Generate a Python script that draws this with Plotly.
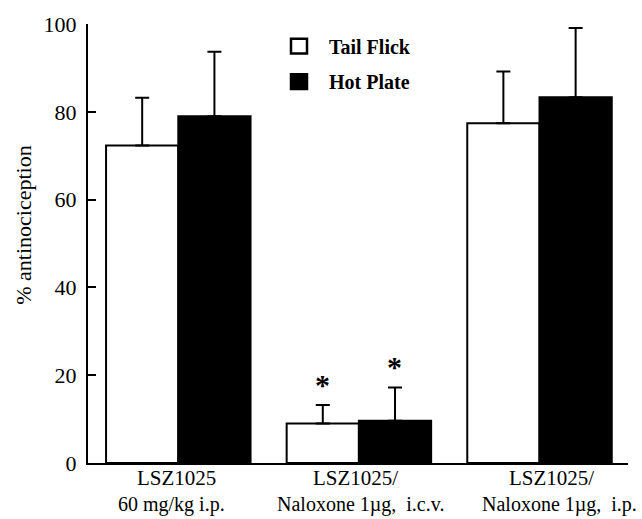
import plotly.graph_objects as go

categories = ["LSZ1025", "LSZ1025/", "LSZ1025/ "]
sublabels = ["60 mg/kg i.p.", "Naloxone 1\u00b5g,  i.c.v.", "Naloxone 1\u00b5g,  i.p."]
tail_flick = [72.3, 9.0, 77.4]
tail_flick_err = [10.9, 4.2, 11.8]
hot_plate = [79.0, 9.6, 83.3]
hot_plate_err = [14.7, 7.6, 15.8]
y_ticks = [0, 20, 40, 60, 80, 100]
series_names = ["Tail Flick", "Hot Plate"]

FONT = "Liberation Serif"
W, H = 642, 519
L, R, T, B = 88, 14, 17, 56
pw, ph = W - L - R, H - T - B

def px(x):
    return (x - L) / pw

def py(y):
    return (H - B - y) / ph

fig = go.Figure()
fig.add_trace(go.Bar(
    x=categories, y=tail_flick, name=series_names[0],
    marker=dict(color="white", line=dict(color="black", width=2)),
    error_y=dict(type="data", array=tail_flick_err, arrayminus=[0] * 3,
                 symmetric=False, color="black", thickness=2, width=7),
    showlegend=False,
))
fig.add_trace(go.Bar(
    x=categories, y=hot_plate, name=series_names[1],
    marker=dict(color="black", line=dict(color="black", width=2)),
    error_y=dict(type="data", array=hot_plate_err, arrayminus=[0] * 3,
                 symmetric=False, color="black", thickness=2, width=7),
    showlegend=False,
))

annotations = []
# category labels (two lines)
for cat, sub, s1, s2 in zip(categories, sublabels, [-2, -3, 12], [-7, 2, 20]):
    annotations.append(dict(x=cat, xref="x", y=py(464), yref="paper", text=cat.strip(),
                            showarrow=False, yanchor="top", xanchor="center", xshift=s1,
                            font=dict(family=FONT, size=21, color="black")))
    annotations.append(dict(x=cat, xref="x", y=py(519), yref="paper", text=sub,
                            showarrow=False, yanchor="bottom", xanchor="center", xshift=s2,
                            font=dict(family=FONT, size=20, color="black")))

# significance asterisks
annotations.append(dict(x=categories[1], xref="x", y=tail_flick[1] + tail_flick_err[1] + 4.6, yref="y",
                        text="<b>*</b>", showarrow=False, xshift=-36, yanchor="middle",
                        font=dict(family=FONT, size=30, color="black")))
annotations.append(dict(x=categories[1], xref="x", y=hot_plate[1] + hot_plate_err[1] + 4.8, yref="y",
                        text="<b>*</b>", showarrow=False, xshift=36, yanchor="middle",
                        font=dict(family=FONT, size=30, color="black")))

# y axis title
annotations.append(dict(x=px(24), xref="paper", y=py(222), yref="paper", text="% antinociception",
                        textangle=-90, showarrow=False, xanchor="center", yanchor="middle",
                        font=dict(family=FONT, size=22, color="black")))

# legend
shapes = []
for i, (name, fill) in enumerate(zip(series_names, ["white", "black"])):
    y0 = 32 + i * 36
    shapes.append(dict(type="rect", xref="paper", yref="paper",
                       x0=px(291), x1=px(307), y0=py(y0 + 15), y1=py(y0),
                       fillcolor=fill, line=dict(color="black", width=2.5)))
    annotations.append(dict(x=px(327), xref="paper", y=py(y0 + 8), yref="paper", text="<b>" + name + "</b>",
                            showarrow=False, xanchor="left", yanchor="middle",
                            font=dict(family=FONT, size=20, color="black")))

fig.update_layout(
    width=W, height=H,
    margin=dict(l=L, r=R, t=T, b=B),
    paper_bgcolor="white", plot_bgcolor="white",
    barmode="group", bargap=0.2, bargroupgap=0,
    annotations=annotations, shapes=shapes,
    xaxis=dict(type="category", range=[-0.5, 2.49], showline=True, linecolor="black", linewidth=2,
               showticklabels=False, ticks="", showgrid=False, zeroline=False),
    yaxis=dict(range=[0, 100], tickvals=y_ticks, showline=True, linecolor="black", linewidth=2,
               ticks="inside", ticklen=8, tickwidth=2, tickcolor="black", showgrid=False, zeroline=False,
               tickfont=dict(family=FONT, size=22, color="black"), ticklabelstandoff=5),
    font=dict(family=FONT, color="black"),
)
fig.write_html("out.html", config={"displayModeBar": False},
               post_script="document.body.style.margin='0';")
